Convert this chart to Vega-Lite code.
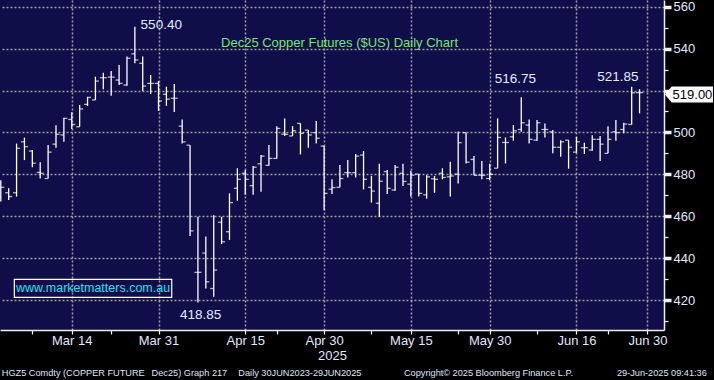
{
  "$schema": "https://vega.github.io/schema/vega-lite/v6.json",
  "width": 664,
  "height": 330,
  "autosize": {"type": "none"},
  "padding": {"left": 0, "top": 0, "right": 50, "bottom": 50},
  "background": "#000000",
  "config": {
    "font": "Liberation Sans",
    "view": {"fill": "#0f0e48", "stroke": null},
    "axis": {"labelFont": "Liberation Sans", "titleFont": "Liberation Sans"}
  },
  "resolve": {"axis": {"y": "independent"}},
  "datasets": {
    "ohlc": [
      {"d":"2025-03-03","o":469.5,"h":477.2,"l":467.0,"c":473.8},
      {"d":"2025-03-04","o":471.2,"h":473.3,"l":467.8,"c":469.4},
      {"d":"2025-03-05","o":471.2,"h":494.7,"l":469.4,"c":492.4},
      {"d":"2025-03-06","o":495.5,"h":497.5,"l":486.8,"c":493.2},
      {"d":"2025-03-07","o":491.1,"h":491.6,"l":483.4,"c":485.3},
      {"d":"2025-03-10","o":480.9,"h":485.8,"l":478.0,"c":480.5},
      {"d":"2025-03-11","o":478.0,"h":494.0,"l":478.0,"c":490.6},
      {"d":"2025-03-12","o":494.4,"h":503.4,"l":492.7,"c":499.1},
      {"d":"2025-03-13","o":498.8,"h":507.0,"l":495.5,"c":506.7},
      {"d":"2025-03-14","o":506.2,"h":509.6,"l":501.6,"c":503.8},
      {"d":"2025-03-17","o":502.7,"h":513.1,"l":502.7,"c":511.2},
      {"d":"2025-03-18","o":513.4,"h":517.0,"l":512.6,"c":516.7},
      {"d":"2025-03-19","o":515.5,"h":526.6,"l":515.5,"c":524.5},
      {"d":"2025-03-20","o":526.1,"h":528.5,"l":520.6,"c":526.1},
      {"d":"2025-03-21","o":526.4,"h":529.3,"l":517.5,"c":526.4},
      {"d":"2025-03-24","o":525.0,"h":532.2,"l":522.6,"c":523.4},
      {"d":"2025-03-25","o":522.6,"h":536.2,"l":522.3,"c":535.4},
      {"d":"2025-03-26","o":537.5,"h":550.4,"l":533.0,"c":534.6},
      {"d":"2025-03-27","o":533.0,"h":536.2,"l":519.8,"c":522.1},
      {"d":"2025-03-28","o":523.4,"h":527.4,"l":518.3,"c":523.4},
      {"d":"2025-03-31","o":523.4,"h":524.5,"l":510.3,"c":515.0},
      {"d":"2025-04-01","o":518.2,"h":521.8,"l":512.7,"c":515.9},
      {"d":"2025-04-02","o":516.3,"h":523.1,"l":509.8,"c":516.3},
      {"d":"2025-04-03","o":503.0,"h":506.2,"l":494.7,"c":495.5},
      {"d":"2025-04-04","o":493.9,"h":493.9,"l":450.6,"c":453.0},
      {"d":"2025-04-07","o":433.2,"h":459.7,"l":418.85,"c":433.2},
      {"d":"2025-04-08","o":442.4,"h":450.3,"l":425.5,"c":428.7},
      {"d":"2025-04-09","o":425.5,"h":460.5,"l":421.6,"c":434.3},
      {"d":"2025-04-10","o":457.1,"h":459.7,"l":446.7,"c":447.8},
      {"d":"2025-04-11","o":452.6,"h":470.9,"l":448.7,"c":466.5},
      {"d":"2025-04-14","o":473.3,"h":482.9,"l":467.4,"c":477.6},
      {"d":"2025-04-15","o":480.5,"h":482.1,"l":470.2,"c":477.6},
      {"d":"2025-04-16","o":474.6,"h":484.0,"l":470.2,"c":483.4},
      {"d":"2025-04-17","o":485.0,"h":489.2,"l":471.7,"c":488.7},
      {"d":"2025-04-21","o":484.3,"h":494.0,"l":484.1,"c":487.6},
      {"d":"2025-04-22","o":487.6,"h":503.0,"l":487.6,"c":501.9},
      {"d":"2025-04-23","o":499.2,"h":506.7,"l":498.3,"c":499.1},
      {"d":"2025-04-24","o":498.3,"h":503.0,"l":498.3,"c":500.8},
      {"d":"2025-04-25","o":504.3,"h":504.3,"l":489.5,"c":499.6},
      {"d":"2025-04-28","o":501.1,"h":501.1,"l":492.7,"c":498.8},
      {"d":"2025-04-29","o":499.9,"h":505.4,"l":494.7,"c":497.2},
      {"d":"2025-04-30","o":493.5,"h":493.5,"l":462.9,"c":470.9},
      {"d":"2025-05-01","o":472.9,"h":477.6,"l":470.6,"c":473.7},
      {"d":"2025-05-02","o":473.8,"h":484.5,"l":473.8,"c":478.0},
      {"d":"2025-05-05","o":480.8,"h":486.8,"l":478.5,"c":480.8},
      {"d":"2025-05-06","o":480.8,"h":489.7,"l":478.5,"c":488.7},
      {"d":"2025-05-07","o":489.2,"h":491.1,"l":472.8,"c":477.6},
      {"d":"2025-05-08","o":473.8,"h":479.2,"l":466.5,"c":472.0},
      {"d":"2025-05-09","o":466.2,"h":485.0,"l":459.7,"c":476.7},
      {"d":"2025-05-12","o":481.3,"h":482.1,"l":470.6,"c":473.3},
      {"d":"2025-05-13","o":472.5,"h":484.5,"l":472.2,"c":483.4},
      {"d":"2025-05-14","o":480.5,"h":485.0,"l":474.4,"c":476.6},
      {"d":"2025-05-15","o":475.3,"h":481.7,"l":469.4,"c":479.6},
      {"d":"2025-05-16","o":480.1,"h":480.1,"l":469.4,"c":470.9},
      {"d":"2025-05-19","o":470.2,"h":479.6,"l":468.4,"c":478.8},
      {"d":"2025-05-20","o":477.9,"h":479.2,"l":471.2,"c":477.6},
      {"d":"2025-05-21","o":480.5,"h":482.9,"l":477.6,"c":478.5},
      {"d":"2025-05-22","o":478.8,"h":486.0,"l":469.4,"c":479.2},
      {"d":"2025-05-23","o":480.1,"h":500.4,"l":475.6,"c":495.1},
      {"d":"2025-05-27","o":499.9,"h":499.9,"l":485.2,"c":485.8},
      {"d":"2025-05-28","o":487.1,"h":488.7,"l":479.5,"c":479.5},
      {"d":"2025-05-29","o":479.6,"h":486.3,"l":477.7,"c":479.5},
      {"d":"2025-05-30","o":478.0,"h":485.0,"l":477.2,"c":480.0},
      {"d":"2025-06-02","o":482.9,"h":506.7,"l":482.9,"c":497.6},
      {"d":"2025-06-03","o":495.2,"h":497.6,"l":485.2,"c":495.2},
      {"d":"2025-06-04","o":497.9,"h":503.5,"l":496.0,"c":500.8},
      {"d":"2025-06-05","o":501.4,"h":516.75,"l":500.3,"c":504.6},
      {"d":"2025-06-06","o":503.5,"h":506.2,"l":494.7,"c":496.7},
      {"d":"2025-06-09","o":496.3,"h":505.9,"l":496.0,"c":504.6},
      {"d":"2025-06-10","o":501.4,"h":504.3,"l":497.6,"c":501.4},
      {"d":"2025-06-11","o":500.3,"h":501.1,"l":490.0,"c":492.9},
      {"d":"2025-06-12","o":492.9,"h":496.3,"l":488.4,"c":495.5},
      {"d":"2025-06-13","o":496.3,"h":496.3,"l":482.7,"c":492.9},
      {"d":"2025-06-16","o":490.6,"h":497.9,"l":490.3,"c":495.5},
      {"d":"2025-06-17","o":492.7,"h":495.1,"l":489.7,"c":492.7},
      {"d":"2025-06-18","o":491.6,"h":498.6,"l":491.3,"c":496.7},
      {"d":"2025-06-20","o":496.7,"h":498.3,"l":486.4,"c":494.4},
      {"d":"2025-06-23","o":490.0,"h":503.0,"l":490.0,"c":496.7},
      {"d":"2025-06-24","o":500.3,"h":505.9,"l":496.0,"c":499.9},
      {"d":"2025-06-25","o":501.4,"h":504.6,"l":499.6,"c":504.0},
      {"d":"2025-06-26","o":503.8,"h":521.85,"l":503.8,"c":518.9},
      {"d":"2025-06-27","o":519.0,"h":520.6,"l":509.1,"c":519.0}
    ]
  },
  "data": {"name": "ohlc"},
  "encoding": {
    "x": {
      "field": "d",
      "type": "ordinal",
      "title": "2025",
      "scale": {
        "type": "point",
        "padding": 0.1,
        "domain": ["2025-03-03","2025-03-04","2025-03-05","2025-03-06","2025-03-07","2025-03-10","2025-03-11","2025-03-12","2025-03-13","2025-03-14","2025-03-17","2025-03-18","2025-03-19","2025-03-20","2025-03-21","2025-03-24","2025-03-25","2025-03-26","2025-03-27","2025-03-28","2025-03-31","2025-04-01","2025-04-02","2025-04-03","2025-04-04","2025-04-07","2025-04-08","2025-04-09","2025-04-10","2025-04-11","2025-04-14","2025-04-15","2025-04-16","2025-04-17","2025-04-21","2025-04-22","2025-04-23","2025-04-24","2025-04-25","2025-04-28","2025-04-29","2025-04-30","2025-05-01","2025-05-02","2025-05-05","2025-05-06","2025-05-07","2025-05-08","2025-05-09","2025-05-12","2025-05-13","2025-05-14","2025-05-15","2025-05-16","2025-05-19","2025-05-20","2025-05-21","2025-05-22","2025-05-23","2025-05-27","2025-05-28","2025-05-29","2025-05-30","2025-06-02","2025-06-03","2025-06-04","2025-06-05","2025-06-06","2025-06-09","2025-06-10","2025-06-11","2025-06-12","2025-06-13","2025-06-16","2025-06-17","2025-06-18","2025-06-20","2025-06-23","2025-06-24","2025-06-25","2025-06-26","2025-06-27","2025-06-30","2025-07-01","2025-07-02"]
      },
      "axis": {
        "values": ["2025-03-07","2025-03-14","2025-03-21","2025-03-31","2025-04-15","2025-04-22","2025-04-30","2025-05-08","2025-05-15","2025-05-23","2025-05-30","2025-06-09","2025-06-16","2025-06-23","2025-06-30"],
        "labelExpr": "indexof(['2025-03-14','2025-03-31','2025-04-15','2025-04-30','2025-05-15','2025-05-30','2025-06-16','2025-06-30'], datum.value) >= 0 ? utcFormat(toDate(datum.value), '%b %d') : ''",
        "labelAngle": 0,
        "labelColor": "#e0e8ff",
        "labelFontSize": 13,
        "labelPadding": 0,
        "grid": true,
        "gridColor": "#a0a0a0",
        "gridDash": [2, 2],
        "gridWidth": 1.5,
        "gridOpacity": {"condition": {"test": "indexof(['2025-03-14','2025-03-31','2025-04-15','2025-04-30','2025-05-15','2025-05-30','2025-06-16','2025-06-30'], datum.value) < 0", "value": 0}, "value": 1},
        "tickColor": "#f0f0f0",
        "tickSize": 4,
        "tickWidth": 1.2,
        "domainColor": "#f0f0f0",
        "domainWidth": 1.5,
        "titleColor": "#e0e8ff",
        "titleFontSize": 13,
        "titleFontWeight": "normal",
        "titlePadding": 2.5
      }
    }
  },
  "layer": [
    {
      "mark": {"type": "rule", "color": "#ffffff", "strokeWidth": 1.3},
      "encoding": {
        "y": {
          "field": "l",
          "type": "quantitative",
          "title": null,
          "scale": {"domain": [405.7, 563.2], "nice": false, "zero": false},
          "axis": {
            "orient": "right",
            "values": [410,420,430,440,450,460,470,480,490,500,510,520,530,540,550,560],
            "labelExpr": "datum.value % 20 === 0 && datum.value !== 520 ? datum.label : ''",
            "labelOverlap": false,
            "labelColor": "#e0e8ff",
            "labelFontSize": 13,
            "labelPadding": 2,
            "grid": true,
            "gridColor": "#a0a0a0",
            "gridDash": [2, 2],
            "gridWidth": 1.5,
            "gridOpacity": {"condition": {"test": "datum.value % 20 !== 0", "value": 0}, "value": 1},
            "tickColor": "#f0f0f0",
            "tickSize": {"condition": {"test": "datum.value % 20 === 0", "value": 7}, "value": 4},
            "tickWidth": {"condition": {"test": "datum.value % 20 === 0", "value": 3.5}, "value": 1.2},
            "domainColor": "#f0f0f0",
            "domainWidth": 1.5,
            "title": null
          }
        },
        "y2": {"field": "h"}
      }
    },
    {
      "mark": {"type": "tick", "color": "#ffffff", "size": 3.5, "thickness": 1.3, "xOffset": -1.75},
      "encoding": {"y": {"field": "o", "type": "quantitative", "axis": null}}
    },
    {
      "mark": {"type": "tick", "color": "#ffffff", "size": 3.5, "thickness": 1.3, "xOffset": 1.75},
      "encoding": {"y": {"field": "c", "type": "quantitative", "axis": null}}
    },
    {
      "data": {"values": [{"d": "2025-03-26", "p": 550.4, "t": "550.40"}]},
      "mark": {"type": "text", "color": "#e6ecff", "fontSize": 13.5, "align": "center", "baseline": "middle", "dx": 26.4, "dy": -1.5},
      "encoding": {"y": {"field": "p", "type": "quantitative", "axis": null}, "text": {"field": "t"}}
    },
    {
      "data": {"values": [{"d": "2025-04-07", "p": 418.85, "t": "418.85"}]},
      "mark": {"type": "text", "color": "#e6ecff", "fontSize": 13.5, "align": "center", "baseline": "middle", "dx": 2.6, "dy": 12.6},
      "encoding": {"y": {"field": "p", "type": "quantitative", "axis": null}, "text": {"field": "t"}}
    },
    {
      "data": {"values": [{"d": "2025-06-05", "p": 516.75, "t": "516.75"}]},
      "mark": {"type": "text", "color": "#e6ecff", "fontSize": 13.5, "align": "center", "baseline": "middle", "dx": -5.8, "dy": -18.3},
      "encoding": {"y": {"field": "p", "type": "quantitative", "axis": null}, "text": {"field": "t"}}
    },
    {
      "data": {"values": [{"d": "2025-06-26", "p": 521.85, "t": "521.85"}]},
      "mark": {"type": "text", "color": "#e6ecff", "fontSize": 13.5, "align": "center", "baseline": "middle", "dx": -13.7, "dy": -9.6},
      "encoding": {"y": {"field": "p", "type": "quantitative", "axis": null}, "text": {"field": "t"}}
    },
    {
      "data": {"values": [{"d": "2025-04-30", "t": "Dec25 Copper Futures ($US) Daily Chart"}]},
      "mark": {"type": "text", "color": "#79e379", "fontSize": 13, "align": "center", "baseline": "middle", "dx": 15.4},
      "encoding": {"y": {"datum": 542.9, "type": "quantitative", "axis": null}, "text": {"field": "t"}}
    },
    {
      "data": {"values": [{"d": "2025-03-18", "t": "www.marketmatters.com.au"}]},
      "mark": {"type": "point", "shape": "M-1,-0.1144L1,-0.1144L1,0.1144L-1,0.1144Z", "size": 24775, "filled": false, "stroke": "#ffffff", "strokeWidth": 1.2, "opacity": 1, "xOffset": 5.5},
      "encoding": {"y": {"datum": 425.6, "type": "quantitative", "axis": null}}
    },
    {
      "data": {"values": [{"d": "2025-03-18", "t": "www.marketmatters.com.au"}]},
      "mark": {"type": "text", "color": "#1ee3f0", "fontSize": 12.5, "align": "center", "baseline": "middle", "dx": 5.5},
      "encoding": {"y": {"datum": 425.6, "type": "quantitative", "axis": null}, "text": {"field": "t"}}
    },
    {
      "data": {"values": [{"d": "2025-06-27", "p": 519.0, "t": "519.00"}]},
      "mark": {"type": "point", "shape": "M-1,0L-0.72,-0.333L1,-0.333L1,0.333L-0.72,0.333Z", "size": 2304, "filled": true, "fill": "#ffffff", "opacity": 1, "xOffset": 49.4, "yOffset": 2},
      "encoding": {"y": {"field": "p", "type": "quantitative", "axis": null}}
    },
    {
      "data": {"values": [{"d": "2025-06-27", "p": 519.0, "t": "519.00"}]},
      "mark": {"type": "text", "color": "#000000", "fontSize": 13, "align": "center", "baseline": "middle", "dx": 52.9, "dy": 2},
      "encoding": {"y": {"field": "p", "type": "quantitative", "axis": null}, "text": {"field": "t"}}
    },
    {
      "data": {"values": [
        {"d": "2025-03-03", "t": "HGZ5 Comdty (COPPER FUTURE"},
        {"d": "2025-03-28", "t": "Dec25) Graph 217"},
        {"d": "2025-04-14", "t": "Daily 30JUN2023-29JUN2025"},
        {"d": "2025-05-14", "t": "Copyright© 2025 Bloomberg Finance L.P."},
        {"d": "2025-06-24", "t": "29-Jun-2025 09:41:36"}
      ]},
      "mark": {"type": "text", "color": "#dde6ff", "font": "Liberation Sans", "fontSize": 9.2, "align": "left", "baseline": "middle", "dx": 1},
      "encoding": {"y": {"datum": 385.3, "type": "quantitative", "axis": null}, "text": {"field": "t"}}
    }
  ]
}
